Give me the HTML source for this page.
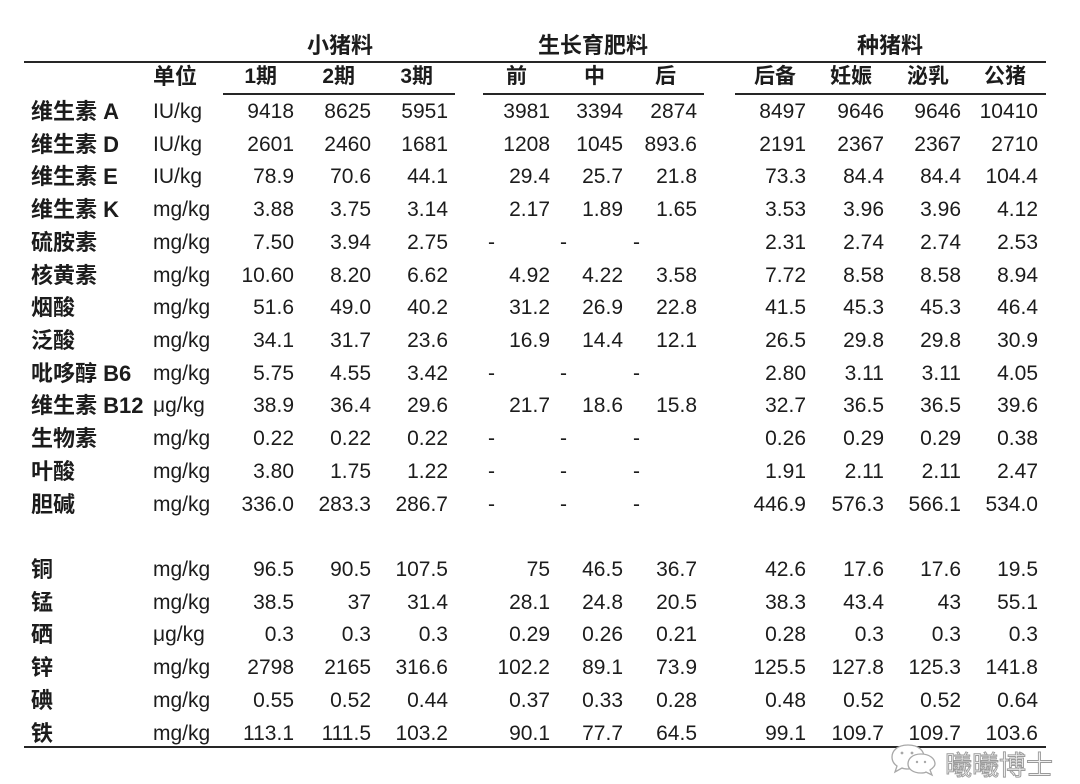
<!DOCTYPE html>
<html>
<head>
<meta charset="utf-8">
<style>
html,body{margin:0;padding:0;background:#fff;}
#c{position:relative;width:1080px;height:784px;overflow:hidden;background:#fff;color:#1c1c1c;
font-family:"Liberation Sans","Noto Sans CJK SC",sans-serif;}
.ln{position:absolute;background:#262626;height:2px;}
.r{position:absolute;left:0;width:1080px;height:30px;}
.r span{position:absolute;top:0;height:30px;line-height:30px;white-space:nowrap;font-size:21px;}
.r .l{left:31px;font-size:22px;font-weight:bold;}
.r .u{left:153px;}
.v1{right:786px}.v2{right:709px}.v3{right:632px}
.v4{right:530px}.v5{right:457px}.v6{right:383px}
.v7{right:274px}.v8{right:196px}.v9{right:119px}.v10{right:42px}
.d1{left:488px}.d2{left:560px}.d3{left:633px}
.h{position:absolute;height:30px;line-height:30px;font-weight:bold;white-space:nowrap;}
.g{font-size:22px;top:31px;}
.s{font-size:21px;top:62px;}
.wm{position:absolute;left:945px;top:748px;font-size:27px;line-height:32px;color:#f0f0f0;
-webkit-text-stroke:0.9px #9a9a9a;font-family:"Noto Sans CJK SC",sans-serif;white-space:nowrap;}
</style>
</head>
<body>
<div id="c">
<!-- group headers -->
<div class="h g" style="left:307px">小猪料</div>
<div class="h g" style="left:538px">生长育肥料</div>
<div class="h g" style="left:857px">种猪料</div>
<div class="ln" style="left:24px;top:61px;width:1022px"></div>
<!-- sub headers -->
<div class="h s" style="left:153px;font-size:22px">单位</div>
<div class="h s" style="right:803px">1期</div>
<div class="h s" style="right:725px">2期</div>
<div class="h s" style="right:647px">3期</div>
<div class="h s" style="left:506px">前</div>
<div class="h s" style="left:584px">中</div>
<div class="h s" style="left:655px">后</div>
<div class="h s" style="left:754px">后备</div>
<div class="h s" style="left:830px">妊娠</div>
<div class="h s" style="left:907px">泌乳</div>
<div class="h s" style="left:984px">公猪</div>
<div class="ln" style="left:223px;top:93px;width:232px"></div>
<div class="ln" style="left:483px;top:93px;width:221px"></div>
<div class="ln" style="left:735px;top:93px;width:311px"></div>

<div class="r" style="top:97px"><span class="l">维生素 A</span><span class="u">IU/kg</span><span class="v1">9418</span><span class="v2">8625</span><span class="v3">5951</span><span class="v4">3981</span><span class="v5">3394</span><span class="v6">2874</span><span class="v7">8497</span><span class="v8">9646</span><span class="v9">9646</span><span class="v10">10410</span></div>
<div class="r" style="top:130px"><span class="l">维生素 D</span><span class="u">IU/kg</span><span class="v1">2601</span><span class="v2">2460</span><span class="v3">1681</span><span class="v4">1208</span><span class="v5">1045</span><span class="v6">893.6</span><span class="v7">2191</span><span class="v8">2367</span><span class="v9">2367</span><span class="v10">2710</span></div>
<div class="r" style="top:162px"><span class="l">维生素 E</span><span class="u">IU/kg</span><span class="v1">78.9</span><span class="v2">70.6</span><span class="v3">44.1</span><span class="v4">29.4</span><span class="v5">25.7</span><span class="v6">21.8</span><span class="v7">73.3</span><span class="v8">84.4</span><span class="v9">84.4</span><span class="v10">104.4</span></div>
<div class="r" style="top:195px"><span class="l">维生素 K</span><span class="u">mg/kg</span><span class="v1">3.88</span><span class="v2">3.75</span><span class="v3">3.14</span><span class="v4">2.17</span><span class="v5">1.89</span><span class="v6">1.65</span><span class="v7">3.53</span><span class="v8">3.96</span><span class="v9">3.96</span><span class="v10">4.12</span></div>
<div class="r" style="top:228px"><span class="l">硫胺素</span><span class="u">mg/kg</span><span class="v1">7.50</span><span class="v2">3.94</span><span class="v3">2.75</span><span class="d1">-</span><span class="d2">-</span><span class="d3">-</span><span class="v7">2.31</span><span class="v8">2.74</span><span class="v9">2.74</span><span class="v10">2.53</span></div>
<div class="r" style="top:261px"><span class="l">核黄素</span><span class="u">mg/kg</span><span class="v1">10.60</span><span class="v2">8.20</span><span class="v3">6.62</span><span class="v4">4.92</span><span class="v5">4.22</span><span class="v6">3.58</span><span class="v7">7.72</span><span class="v8">8.58</span><span class="v9">8.58</span><span class="v10">8.94</span></div>
<div class="r" style="top:293px"><span class="l">烟酸</span><span class="u">mg/kg</span><span class="v1">51.6</span><span class="v2">49.0</span><span class="v3">40.2</span><span class="v4">31.2</span><span class="v5">26.9</span><span class="v6">22.8</span><span class="v7">41.5</span><span class="v8">45.3</span><span class="v9">45.3</span><span class="v10">46.4</span></div>
<div class="r" style="top:326px"><span class="l">泛酸</span><span class="u">mg/kg</span><span class="v1">34.1</span><span class="v2">31.7</span><span class="v3">23.6</span><span class="v4">16.9</span><span class="v5">14.4</span><span class="v6">12.1</span><span class="v7">26.5</span><span class="v8">29.8</span><span class="v9">29.8</span><span class="v10">30.9</span></div>
<div class="r" style="top:359px"><span class="l">吡哆醇 B6</span><span class="u">mg/kg</span><span class="v1">5.75</span><span class="v2">4.55</span><span class="v3">3.42</span><span class="d1">-</span><span class="d2">-</span><span class="d3">-</span><span class="v7">2.80</span><span class="v8">3.11</span><span class="v9">3.11</span><span class="v10">4.05</span></div>
<div class="r" style="top:391px"><span class="l">维生素 B12</span><span class="u">μg/kg</span><span class="v1">38.9</span><span class="v2">36.4</span><span class="v3">29.6</span><span class="v4">21.7</span><span class="v5">18.6</span><span class="v6">15.8</span><span class="v7">32.7</span><span class="v8">36.5</span><span class="v9">36.5</span><span class="v10">39.6</span></div>
<div class="r" style="top:424px"><span class="l">生物素</span><span class="u">mg/kg</span><span class="v1">0.22</span><span class="v2">0.22</span><span class="v3">0.22</span><span class="d1">-</span><span class="d2">-</span><span class="d3">-</span><span class="v7">0.26</span><span class="v8">0.29</span><span class="v9">0.29</span><span class="v10">0.38</span></div>
<div class="r" style="top:457px"><span class="l">叶酸</span><span class="u">mg/kg</span><span class="v1">3.80</span><span class="v2">1.75</span><span class="v3">1.22</span><span class="d1">-</span><span class="d2">-</span><span class="d3">-</span><span class="v7">1.91</span><span class="v8">2.11</span><span class="v9">2.11</span><span class="v10">2.47</span></div>
<div class="r" style="top:490px"><span class="l">胆碱</span><span class="u">mg/kg</span><span class="v1">336.0</span><span class="v2">283.3</span><span class="v3">286.7</span><span class="d1">-</span><span class="d2">-</span><span class="d3">-</span><span class="v7">446.9</span><span class="v8">576.3</span><span class="v9">566.1</span><span class="v10">534.0</span></div>

<div class="r" style="top:555px"><span class="l">铜</span><span class="u">mg/kg</span><span class="v1">96.5</span><span class="v2">90.5</span><span class="v3">107.5</span><span class="v4">75</span><span class="v5">46.5</span><span class="v6">36.7</span><span class="v7">42.6</span><span class="v8">17.6</span><span class="v9">17.6</span><span class="v10">19.5</span></div>
<div class="r" style="top:588px"><span class="l">锰</span><span class="u">mg/kg</span><span class="v1">38.5</span><span class="v2">37</span><span class="v3">31.4</span><span class="v4">28.1</span><span class="v5">24.8</span><span class="v6">20.5</span><span class="v7">38.3</span><span class="v8">43.4</span><span class="v9">43</span><span class="v10">55.1</span></div>
<div class="r" style="top:620px"><span class="l">硒</span><span class="u">μg/kg</span><span class="v1">0.3</span><span class="v2">0.3</span><span class="v3">0.3</span><span class="v4">0.29</span><span class="v5">0.26</span><span class="v6">0.21</span><span class="v7">0.28</span><span class="v8">0.3</span><span class="v9">0.3</span><span class="v10">0.3</span></div>
<div class="r" style="top:653px"><span class="l">锌</span><span class="u">mg/kg</span><span class="v1">2798</span><span class="v2">2165</span><span class="v3">316.6</span><span class="v4">102.2</span><span class="v5">89.1</span><span class="v6">73.9</span><span class="v7">125.5</span><span class="v8">127.8</span><span class="v9">125.3</span><span class="v10">141.8</span></div>
<div class="r" style="top:686px"><span class="l">碘</span><span class="u">mg/kg</span><span class="v1">0.55</span><span class="v2">0.52</span><span class="v3">0.44</span><span class="v4">0.37</span><span class="v5">0.33</span><span class="v6">0.28</span><span class="v7">0.48</span><span class="v8">0.52</span><span class="v9">0.52</span><span class="v10">0.64</span></div>
<div class="r" style="top:719px"><span class="l">铁</span><span class="u">mg/kg</span><span class="v1">113.1</span><span class="v2">111.5</span><span class="v3">103.2</span><span class="v4">90.1</span><span class="v5">77.7</span><span class="v6">64.5</span><span class="v7">99.1</span><span class="v8">109.7</span><span class="v9">109.7</span><span class="v10">103.6</span></div>

<div class="ln" style="left:24px;top:746px;width:1022px"></div>

<!-- watermark -->
<svg style="position:absolute;left:888px;top:740px" width="56" height="40" viewBox="0 0 56 40">
  <path d="M20 5 C8 5 4 12 4 17 C4 21 6 24 9 26 L7 32 L14 28 C16 29 18 29 20 29 C32 29 36 23 36 17 C36 11 31 5 20 5 Z" fill="#fff" stroke="#a8a8a8" stroke-width="1.3"/>
  <path d="M33 14 C24 14 20 19 20 24 C20 29 25 33 33 33 C35 33 37 33 38 32 L44 35 L42 30 C45 28 47 26 47 24 C47 19 42 14 33 14 Z" fill="#fff" stroke="#a8a8a8" stroke-width="1.3"/>
  <circle cx="14" cy="13" r="1.4" fill="#a8a8a8"/><circle cx="24" cy="13" r="1.4" fill="#a8a8a8"/>
  <circle cx="29" cy="22" r="1.2" fill="#a8a8a8"/><circle cx="37" cy="22" r="1.2" fill="#a8a8a8"/>
</svg>
<div class="wm">曦曦博士</div>
</div>
</body>
</html>
